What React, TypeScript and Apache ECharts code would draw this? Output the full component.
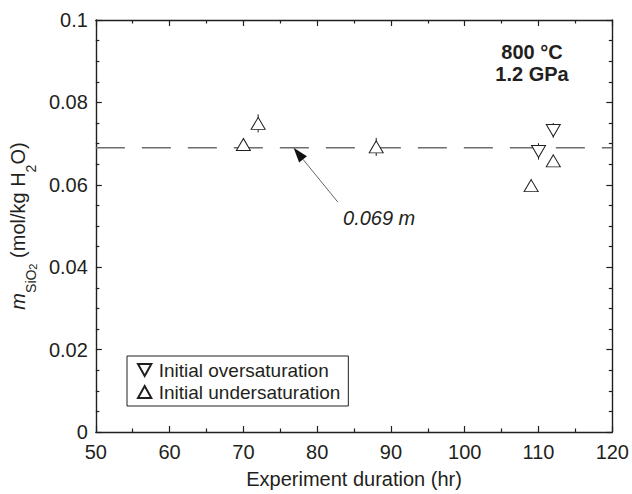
import React, { useEffect, useRef } from "react";
import * as echarts from "echarts";

// ---- data ----
const overX = [110, 112];
const overY = [0.0681, 0.0732];
const overErr = [0.002, 0.0018];

const underX = [70, 72, 88, 109, 112];
const underY = [0.0698, 0.0749, 0.0692, 0.0598, 0.0658];
const underErr = [0.0012, 0.0022, 0.0022, 0.001, 0.001];

const refValue = 0.069;
const xRange = [50, 120];
const yRange = [0, 0.1];
const arrowFrom = [82.8, 0.0558];
const arrowTo = [76.8, 0.069];
const refLabelPos = [83.5, 0.0519];
const refLabel = "0.069 m";
const seriesNames = ["Initial oversaturation", "Initial undersaturation"];
const conditionText = "800 °C\n1.2 GPa";

const FONT = "'Liberation Sans', Arial, Helvetica, sans-serif";
const INK = "#231f20";
const DOWN_TRI = "path://M0,0L10,0L5,9Z";
const UP_TRI = "path://M5,0L10,9L0,9Z";

export default function App() {
  const ref = useRef<HTMLDivElement>(null);
  useEffect(() => {
    if (!ref.current) return;
    const chart = echarts.init(ref.current, null, { renderer: "svg" });

    const axisLine = { show: true, onZero: false, lineStyle: { color: INK, width: 1.4 } };
    const tick = { show: true, inside: true, length: 6, lineStyle: { color: INK, width: 1.2 } };
    const minorTick = (n: number) => ({ show: true, splitNumber: n, length: 3.5, lineStyle: { color: INK, width: 1.2 } });
    const label = { fontSize: 20, color: INK, fontFamily: FONT };

    const overData = overX.map((x, i) => [x, overY[i]]);
    const underData = underX.map((x, i) => [x, underY[i]]);
    const errData = [
      ...overX.map((x, i) => [x, overY[i], overErr[i]]),
      ...underX.map((x, i) => [x, underY[i], underErr[i]]),
    ];

    const option: any = {
      animation: false,
      grid: { left: 94, right: 19, top: 20, bottom: 60, containLabel: false },
      xAxis: [
        {
          type: "value", min: xRange[0], max: xRange[1], interval: 10, position: "bottom",
          axisLine, axisTick: tick, minorTick: minorTick(2), splitLine: { show: false },
          axisLabel: { ...label, margin: 10 },
          name: "Experiment duration (hr)", nameLocation: "middle", nameGap: 37,
          nameTextStyle: { fontSize: 20, color: INK, fontFamily: FONT },
        },
        {
          type: "value", min: xRange[0], max: xRange[1], interval: 10, position: "top",
          axisLine, axisTick: tick, minorTick: minorTick(2), splitLine: { show: false },
          axisLabel: { show: false },
        },
      ],
      yAxis: [
        {
          type: "value", min: yRange[0], max: yRange[1], interval: 0.02, position: "left",
          axisLine, axisTick: tick, minorTick: minorTick(4), splitLine: { show: false },
          axisLabel: { ...label, margin: 8, formatter: (v: number) => String(+v.toFixed(2)) },
          name: "{i|m}{sub|SiO}{sub2|2}{n| (mol/kg H}{sub3|2}{n|O)}",
          nameLocation: "middle", nameRotate: 90, nameGap: 52,
          nameTextStyle: {
            rich: {
              i: { fontSize: 20, fontStyle: "italic", fontFamily: FONT, color: INK, lineHeight: 40 },
              n: { fontSize: 20, fontFamily: FONT, color: INK, lineHeight: 40 },
              sub: { fontSize: 14, fontFamily: FONT, color: INK, lineHeight: 18, verticalAlign: "bottom" },
              sub2: { fontSize: 11, fontFamily: FONT, color: INK, lineHeight: 4, verticalAlign: "bottom" },
              sub3: { fontSize: 14, fontFamily: FONT, color: INK, lineHeight: 26, verticalAlign: "bottom" },
            },
          },
        },
        {
          type: "value", min: yRange[0], max: yRange[1], interval: 0.02, position: "right",
          axisLine, axisTick: tick, minorTick: minorTick(4), splitLine: { show: false },
          axisLabel: { show: false },
        },
      ],
      legend: {
        data: [
          { name: seriesNames[0], icon: DOWN_TRI },
          { name: seriesNames[1], icon: UP_TRI },
        ],
        orient: "vertical", left: 127, top: 356,
        borderColor: INK, borderWidth: 1, borderRadius: 0,
        padding: [4, 8, 4, 10], itemGap: 2, itemWidth: 14, itemHeight: 12,
        textStyle: { fontSize: 19, lineHeight: 20, color: INK, fontFamily: FONT, padding: [0, 0, 0, 2] },
        selectedMode: false,
      },
      graphic: [
        {
          type: "text", x: 532, y: 63,
          style: {
            text: conditionText, textAlign: "center", textVerticalAlign: "middle",
            fontSize: 20, fontWeight: "bold", fontFamily: FONT, fill: INK, lineHeight: 22,
          },
        },
      ],
      series: [
        {
          type: "line", data: [[xRange[0], refValue], [xRange[1], refValue]],
          symbol: "none", silent: true, z: 1,
          lineStyle: { color: "#6d6d6d", width: 1.4, type: [29, 17] },
        },
        {
          type: "custom", z: 2, silent: true,
          data: errData,
          encode: { x: 0, y: 1 },
          renderItem: (_p: any, api: any) => {
            const x = api.value(0), y = api.value(1), e = api.value(2);
            const a = api.coord([x, y - e]);
            const b = api.coord([x, y + e]);
            return { type: "line", shape: { x1: a[0], y1: a[1], x2: b[0], y2: b[1] }, style: { stroke: INK, lineWidth: 1 } };
          },
        },
        {
          name: seriesNames[0], type: "scatter", z: 5, data: overData,
          symbol: DOWN_TRI, symbolSize: [14, 12],
          itemStyle: { color: "#ffffff", borderColor: INK, borderWidth: 1, opacity: 1 },
        },
        {
          name: seriesNames[1], type: "scatter", z: 5, data: underData,
          symbol: UP_TRI, symbolSize: [14, 12],
          itemStyle: { color: "#ffffff", borderColor: INK, borderWidth: 1, opacity: 1 },
        },
        {
          type: "custom", z: 6, silent: true,
          data: [[arrowFrom[0], arrowFrom[1], arrowTo[0], arrowTo[1]]],
          encode: { x: [0, 2], y: [1, 3] },
          renderItem: (_p: any, api: any) => {
            const p1 = api.coord([api.value(0), api.value(1)]);
            const p2 = api.coord([api.value(2), api.value(3)]);
            const dx = p2[0] - p1[0], dy = p2[1] - p1[1];
            const len = Math.sqrt(dx * dx + dy * dy);
            const ux = dx / len, uy = dy / len;
            const hl = 15, hw = 5;
            const bx = p2[0] - ux * hl, by = p2[1] - uy * hl;
            return {
              type: "group",
              children: [
                { type: "line", shape: { x1: p1[0], y1: p1[1], x2: bx, y2: by }, style: { stroke: "#555", lineWidth: 0.9 } },
                {
                  type: "polygon",
                  shape: { points: [[p2[0], p2[1]], [bx - uy * hw, by + ux * hw], [bx + uy * hw, by - ux * hw]] },
                  style: { fill: "#111" },
                },
              ],
            };
          },
        },
        {
          type: "custom", z: 6, silent: true,
          data: [[refLabelPos[0], refLabelPos[1]]],
          encode: { x: 0, y: 1 },
          renderItem: (_p: any, api: any) => {
            const p = api.coord([api.value(0), api.value(1)]);
            return {
              type: "text", x: p[0], y: p[1],
              style: { text: refLabel, fontSize: 20, fontStyle: "italic", fontFamily: FONT, fill: INK, textAlign: "left", textVerticalAlign: "middle" },
            };
          },
        },
      ],
    };
    chart.setOption(option);
    return () => chart.dispose();
  }, []);
  return (
    <div
      ref={ref}
      style={{ position: "fixed", left: 0, top: 0, width: 632, height: 494, background: "#fff" }}
    />
  );
}
